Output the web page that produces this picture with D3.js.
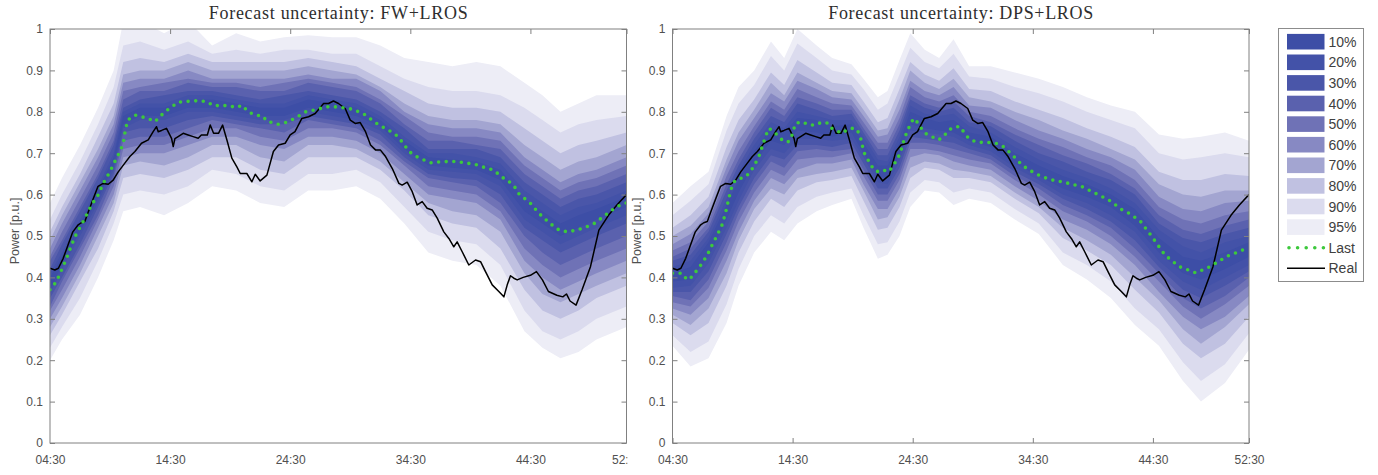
<!DOCTYPE html>
<html><head><meta charset="utf-8">
<script src="https://cdn.jsdelivr.net/npm/d3@7"></script>
<style>body{margin:0;background:#fff}svg{display:block}</style>
</head><body>
<script>
// ---------------- DATA ----------------
const tickHours = [4.5, 14.5, 24.5, 34.5, 44.5, 52.5];
const tickLabels = ["04:30", "14:30", "24:30", "34:30", "44:30", "52:30"];
const yTicks = [0, 0.1, 0.2, 0.3, 0.4, 0.5, 0.6, 0.7, 0.8, 0.9, 1];
const yTickLabels = ["0", "0.1", "0.2", "0.3", "0.4", "0.5", "0.6", "0.7", "0.8", "0.9", "1"];
const levels = ["10%", "20%", "30%", "40%", "50%", "60%", "70%", "80%", "90%", "95%"];
const titles = ["Forecast uncertainty: FW+LROS", "Forecast uncertainty: DPS+LROS"];

// quantile rows: lo95,lo90,...,lo10, hi10,...,hi90,hi95
const fwTime = [4.5, 5.5, 7, 8.5, 9.8, 10.6, 12, 14, 16, 18, 20, 22, 24, 26, 28, 30, 32, 34, 36, 38, 40, 42, 44, 45.5, 47, 48.5, 50, 52.5];
const fwQuant = [
 [0.20,0.23,0.26,0.28,0.30,0.32,0.33,0.35,0.36,0.37, 0.40,0.41,0.42,0.44,0.45,0.47,0.49,0.51,0.54,0.58],
 [0.25,0.28,0.31,0.33,0.35,0.37,0.39,0.40,0.42,0.43, 0.45,0.46,0.48,0.49,0.51,0.53,0.55,0.57,0.60,0.64],
 [0.31,0.35,0.39,0.41,0.43,0.45,0.47,0.48,0.50,0.51, 0.53,0.54,0.56,0.57,0.59,0.61,0.63,0.65,0.68,0.72],
 [0.40,0.44,0.47,0.50,0.52,0.54,0.55,0.57,0.58,0.59, 0.61,0.62,0.64,0.65,0.67,0.69,0.71,0.74,0.77,0.81],
 [0.49,0.53,0.56,0.58,0.60,0.62,0.64,0.65,0.66,0.67, 0.69,0.70,0.72,0.73,0.75,0.77,0.79,0.82,0.86,0.90],
 [0.56,0.60,0.64,0.67,0.69,0.71,0.73,0.75,0.76,0.77, 0.79,0.80,0.81,0.83,0.85,0.87,0.89,0.92,0.96,1.02],
 [0.57,0.61,0.65,0.68,0.70,0.72,0.74,0.76,0.78,0.79, 0.81,0.82,0.83,0.85,0.86,0.88,0.90,0.93,0.97,1.02],
 [0.55,0.60,0.64,0.67,0.70,0.72,0.74,0.76,0.78,0.79, 0.81,0.82,0.84,0.85,0.87,0.88,0.90,0.92,0.95,0.99],
 [0.58,0.62,0.66,0.69,0.72,0.74,0.76,0.78,0.80,0.81, 0.83,0.84,0.85,0.87,0.88,0.90,0.92,0.94,0.97,1.02],
 [0.62,0.66,0.69,0.72,0.74,0.76,0.78,0.79,0.80,0.81, 0.83,0.84,0.85,0.86,0.87,0.88,0.90,0.92,0.94,0.96],
 [0.61,0.65,0.69,0.72,0.74,0.76,0.77,0.78,0.79,0.80, 0.82,0.83,0.84,0.86,0.87,0.88,0.90,0.92,0.95,0.99],
 [0.58,0.62,0.66,0.69,0.72,0.74,0.76,0.77,0.78,0.79, 0.81,0.82,0.83,0.85,0.86,0.88,0.90,0.92,0.94,0.97],
 [0.57,0.61,0.65,0.68,0.71,0.73,0.75,0.77,0.78,0.79, 0.81,0.82,0.84,0.85,0.87,0.88,0.90,0.92,0.95,0.98],
 [0.61,0.65,0.69,0.72,0.74,0.76,0.78,0.79,0.80,0.81, 0.83,0.84,0.85,0.87,0.88,0.89,0.91,0.93,0.95,0.985],
 [0.61,0.65,0.69,0.72,0.74,0.76,0.77,0.78,0.79,0.80, 0.82,0.83,0.84,0.86,0.87,0.88,0.90,0.92,0.94,0.98],
 [0.62,0.66,0.69,0.71,0.73,0.75,0.76,0.77,0.78,0.79, 0.81,0.82,0.83,0.85,0.86,0.88,0.89,0.91,0.94,0.98],
 [0.59,0.63,0.66,0.68,0.70,0.72,0.73,0.745,0.755,0.765, 0.78,0.79,0.80,0.82,0.83,0.85,0.86,0.88,0.91,0.96],
 [0.53,0.57,0.61,0.63,0.65,0.67,0.68,0.69,0.70,0.71, 0.73,0.74,0.76,0.77,0.79,0.80,0.82,0.85,0.88,0.93],
 [0.46,0.51,0.55,0.58,0.60,0.62,0.64,0.65,0.66,0.67, 0.69,0.70,0.71,0.73,0.75,0.77,0.79,0.82,0.86,0.92],
 [0.44,0.49,0.53,0.56,0.59,0.61,0.63,0.64,0.655,0.665, 0.685,0.70,0.71,0.73,0.74,0.76,0.78,0.81,0.85,0.91],
 [0.43,0.48,0.52,0.55,0.58,0.60,0.62,0.635,0.65,0.66, 0.68,0.69,0.71,0.72,0.74,0.76,0.78,0.81,0.85,0.92],
 [0.38,0.43,0.47,0.51,0.54,0.56,0.58,0.60,0.62,0.635, 0.66,0.675,0.69,0.71,0.73,0.75,0.77,0.80,0.84,0.91],
 [0.27,0.32,0.37,0.41,0.44,0.47,0.50,0.52,0.54,0.56, 0.59,0.61,0.63,0.65,0.67,0.69,0.72,0.76,0.81,0.87],
 [0.23,0.27,0.32,0.36,0.40,0.43,0.46,0.49,0.51,0.53, 0.56,0.58,0.60,0.62,0.64,0.66,0.69,0.73,0.78,0.84],
 [0.205,0.25,0.30,0.34,0.37,0.40,0.43,0.46,0.48,0.50, 0.53,0.55,0.57,0.59,0.61,0.63,0.66,0.70,0.75,0.80],
 [0.22,0.27,0.32,0.36,0.39,0.42,0.45,0.48,0.50,0.52, 0.55,0.57,0.59,0.61,0.63,0.65,0.68,0.72,0.77,0.82],
 [0.25,0.30,0.35,0.38,0.41,0.44,0.47,0.50,0.52,0.54, 0.565,0.58,0.60,0.62,0.64,0.66,0.69,0.73,0.78,0.84],
 [0.28,0.33,0.38,0.41,0.44,0.47,0.50,0.53,0.55,0.57, 0.595,0.61,0.63,0.65,0.67,0.69,0.72,0.75,0.79,0.84]
];

const dpsTime = [4.5, 6, 7.5, 9, 10, 11.3, 12.7, 13.8, 14.9, 16.5, 17.8, 19.4, 20.4, 21.6, 22.4, 23.4, 24.3, 25.5, 26.7, 27.9, 29.2, 31, 33, 35, 37, 39, 41, 43, 45, 47, 48.5, 50.5, 52.5];
const dpsQuant = [
 [0.235,0.26,0.29,0.31,0.325,0.34,0.355,0.365,0.375,0.39, 0.41,0.425,0.44,0.45,0.465,0.48,0.50,0.52,0.55,0.58],
 [0.185,0.22,0.26,0.285,0.31,0.33,0.345,0.365,0.38,0.395, 0.425,0.44,0.455,0.47,0.485,0.505,0.525,0.55,0.585,0.62],
 [0.205,0.245,0.29,0.325,0.35,0.375,0.395,0.415,0.435,0.45, 0.485,0.495,0.51,0.52,0.535,0.555,0.57,0.595,0.625,0.655],
 [0.29,0.335,0.38,0.41,0.44,0.465,0.485,0.505,0.52,0.54, 0.575,0.59,0.61,0.625,0.645,0.665,0.685,0.715,0.755,0.79],
 [0.38,0.42,0.46,0.49,0.51,0.535,0.555,0.57,0.585,0.605, 0.635,0.655,0.67,0.685,0.705,0.73,0.75,0.78,0.82,0.86],
 [0.46,0.50,0.535,0.565,0.585,0.605,0.625,0.64,0.66,0.675, 0.705,0.72,0.735,0.75,0.765,0.785,0.805,0.83,0.865,0.90],
 [0.51,0.55,0.59,0.615,0.64,0.66,0.68,0.695,0.71,0.73, 0.76,0.775,0.79,0.81,0.825,0.845,0.87,0.895,0.935,0.97],
 [0.49,0.53,0.57,0.60,0.625,0.645,0.665,0.685,0.70,0.72, 0.75,0.76,0.775,0.79,0.805,0.825,0.84,0.865,0.90,0.93],
 [0.53,0.57,0.61,0.64,0.66,0.685,0.705,0.72,0.735,0.755, 0.785,0.80,0.82,0.835,0.855,0.875,0.895,0.925,0.965,1.0],
 [0.56,0.595,0.63,0.65,0.675,0.69,0.71,0.72,0.735,0.75, 0.78,0.79,0.805,0.82,0.835,0.855,0.87,0.895,0.93,0.96],
 [0.575,0.605,0.635,0.655,0.675,0.69,0.705,0.715,0.73,0.74, 0.765,0.78,0.79,0.805,0.82,0.835,0.85,0.87,0.90,0.93],
 [0.59,0.615,0.645,0.665,0.685,0.70,0.71,0.725,0.735,0.75, 0.77,0.78,0.795,0.805,0.815,0.83,0.845,0.865,0.89,0.915],
 [0.52,0.55,0.585,0.61,0.625,0.645,0.66,0.675,0.69,0.70, 0.725,0.74,0.75,0.76,0.775,0.79,0.805,0.825,0.855,0.88],
 [0.445,0.48,0.515,0.54,0.565,0.585,0.60,0.615,0.63,0.645, 0.67,0.685,0.695,0.71,0.725,0.74,0.755,0.775,0.805,0.835],
 [0.455,0.485,0.52,0.545,0.565,0.585,0.60,0.615,0.625,0.64, 0.67,0.68,0.695,0.71,0.725,0.745,0.76,0.785,0.82,0.85],
 [0.50,0.535,0.57,0.595,0.615,0.635,0.65,0.665,0.68,0.695, 0.725,0.74,0.755,0.77,0.785,0.805,0.83,0.855,0.89,0.925],
 [0.57,0.605,0.64,0.665,0.69,0.71,0.725,0.74,0.755,0.77, 0.80,0.815,0.83,0.84,0.86,0.875,0.90,0.92,0.955,0.99],
 [0.61,0.635,0.665,0.68,0.70,0.71,0.725,0.735,0.75,0.76, 0.785,0.795,0.81,0.82,0.835,0.85,0.87,0.89,0.92,0.95],
 [0.605,0.63,0.66,0.675,0.695,0.705,0.72,0.73,0.745,0.755, 0.775,0.79,0.80,0.81,0.825,0.84,0.855,0.875,0.905,0.93],
 [0.575,0.605,0.64,0.66,0.68,0.695,0.71,0.725,0.74,0.75, 0.78,0.795,0.81,0.825,0.84,0.86,0.88,0.905,0.94,0.975],
 [0.59,0.615,0.64,0.655,0.67,0.685,0.70,0.71,0.72,0.73, 0.75,0.765,0.775,0.79,0.80,0.815,0.835,0.855,0.885,0.91],
 [0.58,0.605,0.63,0.645,0.66,0.675,0.685,0.695,0.705,0.715, 0.74,0.75,0.765,0.775,0.79,0.81,0.825,0.85,0.88,0.91],
 [0.54,0.565,0.59,0.605,0.62,0.635,0.645,0.655,0.665,0.675, 0.70,0.715,0.73,0.745,0.76,0.78,0.80,0.825,0.86,0.895],
 [0.505,0.53,0.555,0.57,0.585,0.60,0.615,0.625,0.635,0.645, 0.67,0.685,0.70,0.72,0.735,0.755,0.78,0.805,0.845,0.88],
 [0.43,0.46,0.495,0.52,0.54,0.56,0.575,0.59,0.60,0.615, 0.645,0.66,0.68,0.695,0.715,0.735,0.755,0.785,0.825,0.86],
 [0.395,0.43,0.465,0.49,0.515,0.535,0.55,0.565,0.58,0.595, 0.625,0.64,0.655,0.675,0.69,0.71,0.735,0.76,0.80,0.835],
 [0.35,0.39,0.43,0.455,0.48,0.50,0.52,0.535,0.55,0.57, 0.60,0.615,0.635,0.65,0.67,0.69,0.71,0.74,0.78,0.815],
 [0.285,0.325,0.37,0.40,0.43,0.45,0.47,0.49,0.51,0.525, 0.565,0.58,0.60,0.615,0.635,0.66,0.685,0.715,0.76,0.80],
 [0.235,0.275,0.315,0.345,0.365,0.39,0.41,0.425,0.44,0.46, 0.495,0.515,0.53,0.55,0.57,0.595,0.625,0.655,0.70,0.745],
 [0.15,0.195,0.24,0.275,0.305,0.33,0.35,0.37,0.39,0.41, 0.45,0.475,0.495,0.515,0.54,0.565,0.60,0.635,0.685,0.735],
 [0.10,0.15,0.205,0.24,0.275,0.30,0.325,0.35,0.37,0.395, 0.44,0.46,0.485,0.505,0.53,0.56,0.595,0.635,0.69,0.74],
 [0.145,0.19,0.24,0.28,0.305,0.335,0.355,0.38,0.40,0.42, 0.46,0.485,0.505,0.525,0.55,0.58,0.61,0.65,0.70,0.75],
 [0.225,0.265,0.305,0.335,0.355,0.38,0.40,0.415,0.43,0.45, 0.485,0.50,0.52,0.54,0.56,0.585,0.61,0.645,0.69,0.73]
];

// measured power (same in both panels): [hour, p.u.]
const realData = [[4.5,0.422],[4.9,0.418],[5.2,0.422],[5.6,0.446],[6.0,0.478],[6.4,0.51],[6.85,0.527],[7.1,0.532],[7.4,0.535],[7.7,0.559],[8.1,0.59],[8.5,0.62],[8.93,0.627],[9.35,0.625],[9.76,0.635],[10.18,0.655],[10.73,0.676],[11.15,0.692],[11.57,0.704],[12.12,0.724],[12.68,0.732],[13.09,0.752],[13.37,0.764],[13.51,0.752],[13.79,0.755],[14.2,0.76],[14.62,0.736],[14.76,0.716],[14.9,0.735],[15.17,0.74],[15.59,0.748],[16.0,0.744],[16.42,0.74],[16.84,0.736],[17.1,0.744],[17.3,0.744],[17.6,0.744],[17.84,0.768],[18.12,0.748],[18.53,0.748],[18.87,0.768],[19.23,0.732],[19.64,0.688],[20.06,0.667],[20.34,0.651],[20.89,0.651],[21.31,0.631],[21.59,0.649],[22.0,0.633],[22.56,0.647],[23.1,0.704],[23.53,0.72],[24.08,0.724],[24.5,0.744],[24.9,0.752],[25.47,0.784],[26.03,0.788],[26.58,0.796],[27.28,0.82],[27.69,0.82],[28.1,0.826],[28.52,0.82],[29.08,0.808],[29.5,0.78],[29.91,0.772],[30.33,0.774],[30.77,0.752],[31.19,0.72],[31.6,0.708],[32.0,0.708],[32.44,0.692],[33.0,0.663],[33.55,0.627],[33.82,0.623],[34.24,0.63],[34.66,0.607],[35.07,0.575],[35.49,0.583],[35.9,0.567],[36.32,0.563],[36.74,0.543],[37.29,0.51],[37.71,0.494],[38.12,0.474],[38.4,0.486],[38.82,0.462],[39.37,0.43],[39.93,0.442],[40.35,0.438],[40.76,0.414],[41.32,0.382],[41.87,0.366],[42.29,0.353],[42.57,0.382],[42.84,0.404],[43.12,0.398],[43.4,0.394],[43.9,0.40],[44.5,0.405],[45.0,0.414],[45.5,0.394],[46.0,0.366],[46.7,0.357],[47.2,0.353],[47.5,0.36],[47.8,0.343],[48.3,0.333],[48.8,0.37],[49.5,0.426],[50.2,0.514],[51.0,0.55],[51.7,0.575],[52.5,0.60]];

const fwLast = [[4.5,0.37],[5.04,0.39],[5.46,0.418],[5.88,0.446],[6.29,0.478],[6.71,0.506],[7.12,0.527],[7.54,0.551],[7.96,0.575],[8.51,0.599],[8.93,0.627],[9.48,0.655],[9.9,0.68],[10.32,0.704],[10.6,0.724],[10.73,0.748],[10.96,0.78],[11.57,0.792],[12.68,0.784],[13.23,0.776],[14.06,0.80],[15.17,0.823],[16.28,0.826],[16.98,0.827],[17.6,0.824],[18.1,0.815],[19.4,0.815],[20.0,0.81],[20.5,0.816],[21.0,0.80],[21.6,0.792],[22.2,0.79],[22.6,0.776],[23.1,0.774],[23.5,0.77],[24.1,0.774],[24.6,0.78],[25.1,0.788],[25.8,0.80],[26.3,0.803],[26.8,0.806],[27.4,0.812],[28.2,0.812],[28.8,0.81],[29.4,0.808],[29.9,0.804],[30.8,0.792],[31.3,0.78],[31.9,0.768],[32.4,0.76],[32.9,0.752],[33.4,0.742],[33.8,0.728],[34.4,0.704],[35.0,0.692],[35.6,0.684],[36.2,0.677],[36.9,0.679],[37.7,0.68],[38.3,0.68],[39.0,0.677],[39.9,0.673],[40.5,0.667],[41.1,0.663],[41.6,0.655],[42.2,0.641],[42.7,0.632],[43.3,0.615],[43.5,0.603],[44.5,0.579],[45.2,0.555],[46.1,0.531],[46.9,0.514],[47.6,0.51],[48.3,0.514],[49.0,0.52],[49.8,0.53],[50.5,0.545],[51.3,0.563],[52.0,0.575],[52.5,0.58]];

const dpsLast = [[4.5,0.41],[5.3,0.41],[5.72,0.394],[6.14,0.402],[6.55,0.418],[6.97,0.434],[7.39,0.454],[7.8,0.478],[8.22,0.502],[8.63,0.527],[8.91,0.555],[9.19,0.591],[9.47,0.623],[9.74,0.635],[10.16,0.639],[10.58,0.643],[10.99,0.655],[11.41,0.676],[11.69,0.692],[11.97,0.716],[12.24,0.74],[12.52,0.76],[12.94,0.752],[13.35,0.74],[13.77,0.728],[14.19,0.728],[14.46,0.744],[14.74,0.772],[15.3,0.776],[15.85,0.768],[16.4,0.768],[16.66,0.772],[17.08,0.775],[17.49,0.772],[17.77,0.76],[18.19,0.754],[18.6,0.748],[19.02,0.756],[19.44,0.76],[19.85,0.758],[20.13,0.74],[20.27,0.724],[20.41,0.704],[20.68,0.688],[20.96,0.676],[21.24,0.66],[21.66,0.655],[22.07,0.659],[22.49,0.655],[22.77,0.665],[23.18,0.684],[23.46,0.70],[23.74,0.728],[24.02,0.752],[24.29,0.768],[24.57,0.784],[24.85,0.776],[25.12,0.764],[25.54,0.748],[26.1,0.74],[26.65,0.732],[27.07,0.74],[27.48,0.756],[28.04,0.764],[28.46,0.764],[28.73,0.752],[29.15,0.736],[29.7,0.728],[30.26,0.726],[30.84,0.726],[31.4,0.724],[31.95,0.718],[32.5,0.704],[33.06,0.688],[33.62,0.671],[34.17,0.66],[34.73,0.651],[35.28,0.643],[35.84,0.638],[36.39,0.633],[36.95,0.631],[37.5,0.627],[38.06,0.623],[38.61,0.619],[39.17,0.611],[39.72,0.603],[40.28,0.595],[40.83,0.587],[41.39,0.575],[41.94,0.563],[42.5,0.555],[43.05,0.544],[43.47,0.535],[44.33,0.502],[45.5,0.454],[46.7,0.426],[48.07,0.411],[49.26,0.426],[50.6,0.45],[51.96,0.466],[52.5,0.469]];

// ---------------- STYLE ----------------
const bandColors = ["#3d4ea6", "#4352a8", "#4a56a9", "#5a61ae", "#6f72b6", "#8789c3", "#a3a5d1", "#c0c1e1", "#dbdbee", "#ededf6"];
const green = "#3cc83c";
const axisCol = "#808080";
const textCol = "#505050";
const sans = "'Liberation Sans', Arial, Helvetica, sans-serif";
const serif = "'Liberation Serif', 'Times New Roman', serif";

const W = 1378, H = 475;
const svg = d3.select("body").append("svg").attr("width", W).attr("height", H);
const defs = svg.append("defs");
const y = d3.scaleLinear().domain([0, 1]).range([443, 29]);

function panel(o) {
  const x = o.x;
  const [x0, x1] = x.range();
  const g = svg.append("g");
  defs.append("clipPath").attr("id", o.id).append("rect")
    .attr("x", x0).attr("y", y(1)).attr("width", x1 - x0).attr("height", y(0) - y(1));
  const plot = g.append("g").attr("clip-path", `url(#${o.id})`);
  for (let k = 9; k >= 0; k--) {
    const area = d3.area()
      .x((d, i) => x(o.time[i]))
      .y0(d => y(d[9 - k]))
      .y1(d => y(d[10 + k]));
    plot.append("path").datum(o.quant).attr("d", area).attr("fill", bandColors[k]);
  }
  const line = d3.line().x(d => x(d[0])).y(d => y(d[1]));
  plot.append("path").datum(realData).attr("d", line)
    .attr("fill", "none").attr("stroke", "#000").attr("stroke-width", 1.5).attr("stroke-linejoin", "round");
  plot.append("path").datum(o.last).attr("d", line)
    .attr("fill", "none").attr("stroke", green).attr("stroke-width", 3.6)
    .attr("stroke-linecap", "round").attr("stroke-dasharray", "0 7.6");

  // axes
  const styleAxis = sel => {
    sel.select(".domain").remove();
    sel.selectAll(".tick line").attr("stroke", axisCol);
    sel.selectAll(".tick text").attr("fill", textCol).attr("font-family", sans).attr("font-size", 12);
  };
  const bottom = g.append("g").attr("transform", `translate(0,${y(0)})`)
    .call(d3.axisBottom(x).tickValues(tickHours).tickFormat((d, i) => tickLabels[i]).tickSize(-5).tickPadding(12))
    .call(styleAxis);
  if (o.labelClip) bottom.attr("clip-path", `url(#${o.labelClip})`);
  g.append("g").attr("transform", `translate(0,${y(1)})`)
    .call(d3.axisTop(x).tickValues(tickHours).tickFormat("").tickSize(-5)).call(styleAxis);
  g.append("g").attr("transform", `translate(${x0},0)`)
    .call(d3.axisLeft(y).tickValues(yTicks).tickFormat((d, i) => yTickLabels[i]).tickSize(-5).tickPadding(7))
    .call(styleAxis);
  g.append("g").attr("transform", `translate(${x1},0)`)
    .call(d3.axisRight(y).tickValues(yTicks).tickFormat("").tickSize(-5)).call(styleAxis);
  g.append("rect").attr("x", x0).attr("y", y(1)).attr("width", x1 - x0).attr("height", y(0) - y(1))
    .attr("fill", "none").attr("stroke", axisCol).attr("stroke-width", 1);

  g.append("text").attr("x", (x0 + x1) / 2).attr("y", 19).attr("text-anchor", "middle")
    .attr("font-family", serif).attr("font-size", 18).attr("fill", "#2e2e2e")
    .attr("textLength", o.titleLen).attr("lengthAdjust", "spacing").text(o.title);
  g.append("text").attr("transform", `translate(${o.ylabX},231) rotate(-90)`).attr("text-anchor", "middle")
    .attr("dominant-baseline", "central")
    .attr("font-family", sans).attr("font-size", 12.5).attr("fill", textCol).text("Power [p.u.]");
}

defs.append("clipPath").attr("id", "leftLabelClip").append("rect")
  .attr("x", 0).attr("y", 0).attr("width", 627.5).attr("height", H);

panel({ x: d3.scaleLinear().domain([4.5, 52.5]).range([50, 626.5]), time: fwTime, quant: fwQuant, last: fwLast,
  title: titles[0], id: "clipL", labelClip: "leftLabelClip", ylabX: 15, titleLen: 259 });
panel({ x: d3.scaleLinear().domain([4.5, 52.5]).range([672.5, 1249]), time: dpsTime, quant: dpsQuant, last: dpsLast,
  title: titles[1], id: "clipR", labelClip: null, ylabX: 637, titleLen: 265 });

// legend
const lg = svg.append("g");
lg.append("rect").attr("x", 1278.5).attr("y", 28.5).attr("width", 85).attr("height", 253)
  .attr("fill", "#fff").attr("stroke", "#8c8c8c").attr("stroke-width", 1);
const entries = levels.map((l, i) => ({ label: l, type: "band", k: i })).concat([
  { label: "Last", type: "last" }, { label: "Real", type: "real" }]);
entries.forEach((e, i) => {
  const cy = 41.7 + i * 20.6;
  if (e.type === "band") {
    lg.append("rect").attr("x", 1287).attr("y", cy - 7.8).attr("width", 37.5).attr("height", 15.6).attr("fill", bandColors[e.k]);
  } else if (e.type === "last") {
    lg.append("line").attr("x1", 1289).attr("x2", 1323.5).attr("y1", cy).attr("y2", cy)
      .attr("stroke", green).attr("stroke-width", 3.6).attr("stroke-linecap", "round").attr("stroke-dasharray", "0 8.6");
  } else {
    lg.append("line").attr("x1", 1287).attr("x2", 1325).attr("y1", cy).attr("y2", cy)
      .attr("stroke", "#000").attr("stroke-width", 1.5);
  }
  lg.append("text").attr("x", 1328.5).attr("y", cy + 5).attr("font-family", sans).attr("font-size", 14)
    .attr("fill", "#404040").text(e.label);
});
</script>
</body></html>
